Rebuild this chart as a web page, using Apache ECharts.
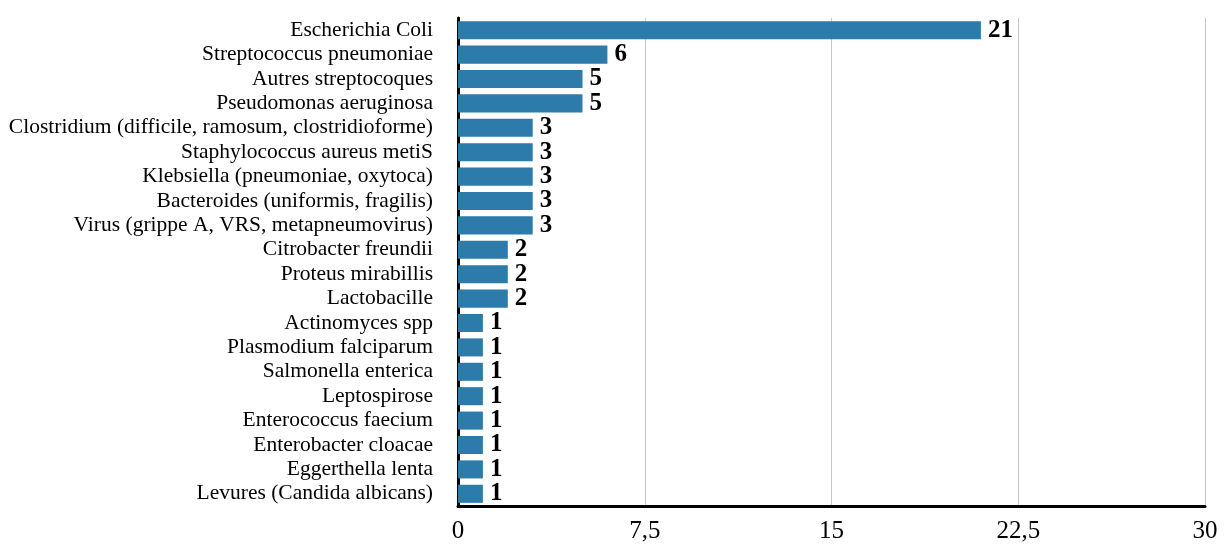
<!DOCTYPE html>
<html>
<head>
<meta charset="utf-8">
<script src="https://cdn.jsdelivr.net/npm/echarts@6/dist/echarts.min.js"></script>
<style>
  html, body { margin: 0; padding: 0; background: #fff; }
  #chart { width: 1232px; height: 546px; }
</style>
</head>
<body>
<div id="chart"></div>
<script>
// Pathogens, listed top to bottom
const categories = [
  'Escherichia Coli',
  'Streptococcus pneumoniae',
  'Autres streptocoques',
  'Pseudomonas aeruginosa',
  'Clostridium (difficile, ramosum, clostridioforme)',
  'Staphylococcus aureus metiS',
  'Klebsiella (pneumoniae, oxytoca)',
  'Bacteroides (uniformis, fragilis)',
  'Virus (grippe A, VRS, metapneumovirus)',
  'Citrobacter freundii',
  'Proteus mirabillis',
  'Lactobacille',
  'Actinomyces spp',
  'Plasmodium falciparum',
  'Salmonella enterica',
  'Leptospirose',
  'Enterococcus faecium',
  'Enterobacter cloacae',
  'Eggerthella lenta',
  'Levures (Candida albicans)'
];
const counts = [21, 6, 5, 5, 3, 3, 3, 3, 3, 2, 2, 2, 1, 1, 1, 1, 1, 1, 1, 1];
const xTickLabels = { 0: '0', 7.5: '7,5', 15: '15', 22.5: '22,5', 30: '30' };

const font = '"Liberation Serif", "DejaVu Serif", serif';
const chart = echarts.init(document.getElementById('chart'));
chart.setOption({
  animation: false,
  grid: { left: 458, right: 27, top: 18, bottom: 40, containLabel: false },
  xAxis: {
    type: 'value',
    min: 0, max: 30, interval: 7.5,
    axisLine: { show: true, lineStyle: { color: '#000', width: 3 } },
    axisTick: { show: false },
    splitLine: { show: true, lineStyle: { color: '#c8c8c8', width: 1 } },
    axisLabel: {
      color: '#000', fontFamily: font, fontSize: 25, margin: 13,
      formatter: v => xTickLabels[v] !== undefined ? xTickLabels[v] : String(v)
    }
  },
  yAxis: {
    type: 'category',
    inverse: true,
    data: categories,
    axisLine: { show: true, lineStyle: { color: '#000', width: 3 } },
    axisTick: { show: false },
    axisLabel: { color: '#000', fontFamily: font, fontSize: 21.5, margin: 25, interval: 0 }
  },
  series: [{
    type: 'bar',
    data: counts,
    barCategoryGap: '26%',
    itemStyle: { color: '#2c7bab' },
    label: {
      show: true, position: 'right', distance: 7,
      color: '#000', fontFamily: font, fontSize: 25, fontWeight: 'bold'
    }
  }]
});
</script>
</body>
</html>
